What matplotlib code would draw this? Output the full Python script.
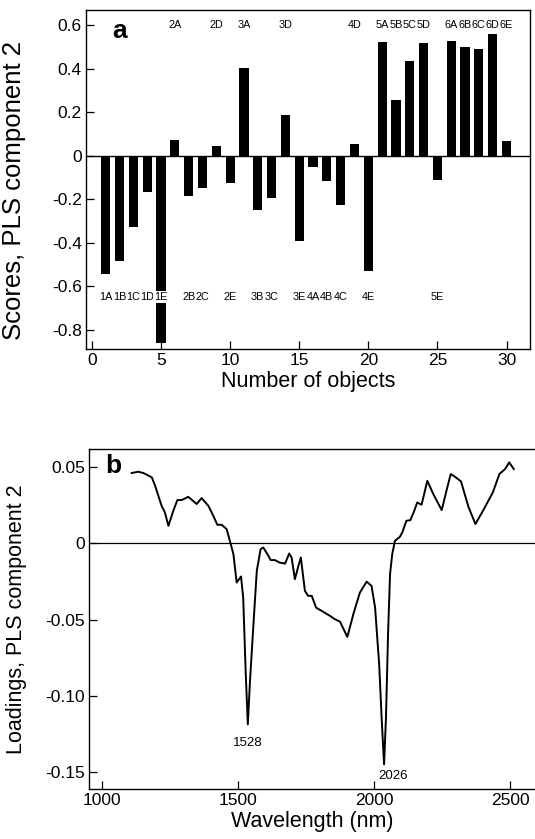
import matplotlib
matplotlib.use("Agg")
import matplotlib.pyplot as plt
import numpy as np

plt.rcParams['font.family'] = ['Liberation Sans', 'DejaVu Sans']

# ---- Panel a data ----
object_labels = ["1A", "1B", "1C", "1D", "1E",
                 "2A", "2B", "2C", "2D", "2E",
                 "3A", "3B", "3C", "3D", "3E",
                 "4A", "4B", "4C", "4D", "4E",
                 "5A", "5B", "5C", "5D", "5E",
                 "6A", "6B", "6C", "6D", "6E"]
object_numbers = list(range(1, 31))
scores = [-0.544, -0.483, -0.325, -0.166, -0.858,
          0.074, -0.184, -0.149, 0.047, -0.126,
          0.403, -0.248, -0.195, 0.189, -0.389,
          -0.052, -0.115, -0.228, 0.055, -0.529,
          0.521, 0.257, 0.434, 0.518, -0.112,
          0.526, 0.498, 0.492, 0.559, 0.069]
a_xticks = [0, 5, 10, 15, 20, 25, 30]
a_yticks = [-0.8, -0.6, -0.4, -0.2, 0, 0.2, 0.4, 0.6]
a_yticklabels = ["-0.8", "-0.6", "-0.4", "-0.2", "0", "0.2", "0.4", "0.6"]

# ---- Panel b data ----
wavelength = [1108, 1132, 1151, 1182, 1194, 1218, 1230, 1243, 1261, 1276,
              1292, 1316, 1347, 1365, 1390, 1408, 1423, 1439, 1457, 1469,
              1482, 1494, 1510, 1518, 1527, 1535, 1543, 1558, 1568, 1582,
              1592, 1607, 1619, 1635, 1651, 1672, 1687, 1696, 1708, 1721,
              1730, 1745, 1757, 1770, 1786, 1807, 1837, 1855, 1874, 1901,
              1923, 1947, 1972, 1990, 2003, 2018, 2027, 2036, 2043, 2051,
              2058, 2066, 2076, 2094, 2103, 2118, 2133, 2146, 2158, 2174,
              2195, 2217, 2248, 2264, 2281, 2297, 2319, 2346, 2372, 2401,
              2436, 2460, 2481, 2496, 2513]
loadings = [0.0459, 0.0467, 0.0459, 0.0430, 0.0376, 0.0244, 0.0201, 0.0113, 0.0212, 0.0282,
            0.0282, 0.0303, 0.0256, 0.0295, 0.0244, 0.0179, 0.0120, 0.0120, 0.0092, 0.0015,
            -0.0072, -0.0258, -0.0218, -0.0356, -0.0837, -0.1186, -0.0902, -0.0465, -0.0182, -0.0039,
            -0.0029, -0.0072, -0.0111, -0.0111, -0.0127, -0.0134, -0.0068, -0.0094, -0.0236, -0.0149,
            -0.0094, -0.0313, -0.0345, -0.0345, -0.0422, -0.0444, -0.0476, -0.0498, -0.0514, -0.0614,
            -0.0465, -0.0324, -0.0252, -0.0280, -0.0422, -0.0793, -0.1143, -0.1448, -0.1143, -0.0575,
            -0.0203, -0.0072, 0.0015, 0.0041, 0.0070, 0.0146, 0.0151, 0.0207, 0.0266, 0.0251,
            0.0408, 0.0321, 0.0216, 0.0332, 0.0452, 0.0434, 0.0404, 0.0238, 0.0125, 0.0216,
            0.0332, 0.0452, 0.0485, 0.0528, 0.0485]
b_xticks = [1000, 1500, 2000, 2500]
b_yticks = [-0.15, -0.10, -0.05, 0, 0.05]
b_yticklabels = ["-0.15", "-0.10", "-0.05", "0", "0.05"]
peak_labels = ["1528", "2026"]

W, H = 535, 839
fig = plt.figure(figsize=(W / 100, H / 100), dpi=100)

# ---------------- Panel a ----------------
axa = fig.add_axes([86 / W, 1 - 349 / H, 444 / W, 339 / H])
axa.bar(object_numbers, scores, width=0.66, color='black', zorder=2)
axa.axhline(0, color='black', lw=1.0, zorder=1)
axa.set_xlim(-0.43, 31.7)
axa.set_ylim(-0.887, 0.669)
axa.set_xticks(a_xticks)
axa.set_yticks(a_yticks)
axa.set_yticklabels(a_yticklabels)
axa.tick_params(direction='in', length=6, width=0.9, labelsize=12.5, pad=3)
for s in axa.spines.values():
    s.set_linewidth(1.0)
axa.set_xlabel("Number of objects", fontsize=15.5, labelpad=2)
fig.text(14 / W, 1 - 190 / H, "Scores, PLS component 2", fontsize=18.5,
         rotation=90, ha='center', va='center')

label_top, label_bottom = 0.602, -0.648
for xn, val, lab in zip(object_numbers, scores, object_labels):
    ypos = label_top if val > 0 else label_bottom
    box = None
    if val < label_bottom + 0.03:
        box = dict(boxstyle='square,pad=0.12', fc='white', ec='none')
    axa.text(xn, ypos, lab, ha='center', va='center', fontsize=7.8,
             family=['Liberation Sans Narrow', 'Liberation Sans', 'DejaVu Sans'],
             fontstretch='condensed', zorder=3, bbox=box)

fig.text(119.5 / W, 1 - 31 / H, "a", fontsize=19, fontweight='bold',
         ha='center', va='center')

# ---------------- Panel b ----------------
axb = fig.add_axes([89 / W, 1 - 789.3 / H, 446 / W, 340 / H])
axb.plot(wavelength, loadings, color='black', lw=1.4, zorder=2)
axb.axhline(0, color='black', lw=0.9, zorder=1)
axb.set_xlim(951, 2591)
axb.set_ylim(-0.1611, 0.0614)
axb.set_xticks(b_xticks)
axb.set_yticks(b_yticks)
axb.set_yticklabels(b_yticklabels)
axb.tick_params(direction='in', length=6, width=0.9, labelsize=12.5, pad=3)
for s in axb.spines.values():
    s.set_linewidth(1.0)
axb.spines['right'].set_visible(False)
axb.set_xlabel("Wavelength (nm)", fontsize=15.5, labelpad=2)
fig.text(17 / W, 1 - 619 / H, "Loadings, PLS component 2", fontsize=15.5,
         rotation=90, ha='center', va='center')

axb.text(1535, -0.131, peak_labels[0], ha='center', va='center', fontsize=9.5)
axb.text(2015, -0.1525, peak_labels[1], ha='left', va='center', fontsize=9.5)
fig.text(113.5 / W, 1 - 466.5 / H, "b", fontsize=19, fontweight='bold',
         ha='center', va='center')

fig.savefig("out.png", dpi=100)
